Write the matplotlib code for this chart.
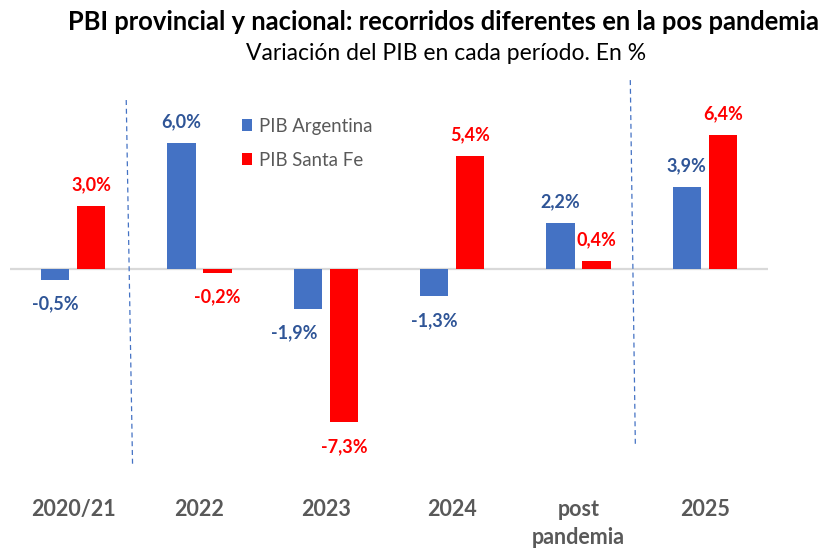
import matplotlib
matplotlib.use("Agg")
import matplotlib.pyplot as plt
import numpy as np

plt.rcParams['font.family'] = ['Lato', 'DejaVu Sans']

categories = ['2020/21', '2022', '2023', '2024', 'post\npandemia', '2025']
pib_argentina = [-0.5, 6.0, -1.9, -1.3, 2.2, 3.9]
pib_santa_fe = [3.0, -0.2, -7.3, 5.4, 0.4, 6.4]

blue = '#4472C4'
red = '#FF0000'
blue_txt = '#2F5597'
grey_txt = '#595959'

fig = plt.figure(figsize=(8.28, 5.48), dpi=100)
# axes: x 10..768 px, y 70..480 px from top
ax = fig.add_axes([10 / 828, 1 - 480 / 548, 758 / 828, 410 / 548])

x = np.arange(len(categories))
w = 0.225
off = 0.143
b1 = ax.bar(x - off, pib_argentina, w, color=blue, label='PIB Argentina', zorder=2)
b2 = ax.bar(x + off, pib_santa_fe, w, color=red, label='PIB Santa Fe', zorder=2)

ax.set_xlim(-0.5, len(categories) - 0.5)
ax.set_ylim(-10.05, 9.48)
ax.axhline(0, color='#D9D9D9', lw=1.6, zorder=1)

def fmt(v):
    return f'{v:.1f}%'.replace('.', ',')

for bars, vals, col in [(b1, pib_argentina, blue_txt), (b2, pib_santa_fe, red)]:
    for i, (r, v) in enumerate(zip(bars, vals)):
        dx = 0
        if col == blue_txt and v < 0 and pib_santa_fe[i] < v:
            dx = -14
        dy = 21 if v >= 0 else -24
        ax.annotate(fmt(v), (r.get_x() + r.get_width() / 2, v),
                    xytext=(dx * 0.72, dy * 0.72), textcoords='offset points',
                    ha='center', va='center', fontsize=13, fontweight='bold',
                    color=col)

# dashed separators
ax.plot([0.42, 0.47], [8.05, -9.3], ls=(0, (4, 3)), color=blue, lw=0.9, zorder=1)
ax.plot([4.41, 4.45], [9.0, -8.4], ls=(0, (4, 3)), color=blue, lw=0.9, zorder=1)

ax.set_xticks(x)
ax.set_xticklabels(categories, fontsize=15.5, fontweight='bold', color=grey_txt,
                   linespacing=1.45, va='top')
ax.tick_params(axis='x', length=0, pad=13.5)
ax.set_yticks([])
for s in ax.spines.values():
    s.set_visible(False)

leg = fig.legend(handles=[b1, b2], loc='upper left',
                 bbox_to_anchor=(225 / 828, 1 - 101 / 548), frameon=False,
                 fontsize=13.4, handlelength=0.55, handleheight=0.6,
                 handletextpad=0.4, labelspacing=0.9)
for t in leg.get_texts():
    t.set_color(grey_txt)

fig.text(444 / 828, 1 - 22 / 548,
         'PBI provincial y nacional: recorridos diferentes en la pos pandemia',
         ha='center', va='center', fontsize=18.4, fontweight='bold', color='black')
fig.text(446 / 828, 1 - 53 / 548, 'Variación del PIB en cada período. En %',
         ha='center', va='center', fontsize=16.5, color='black')

fig.savefig('out.png', dpi=100)
